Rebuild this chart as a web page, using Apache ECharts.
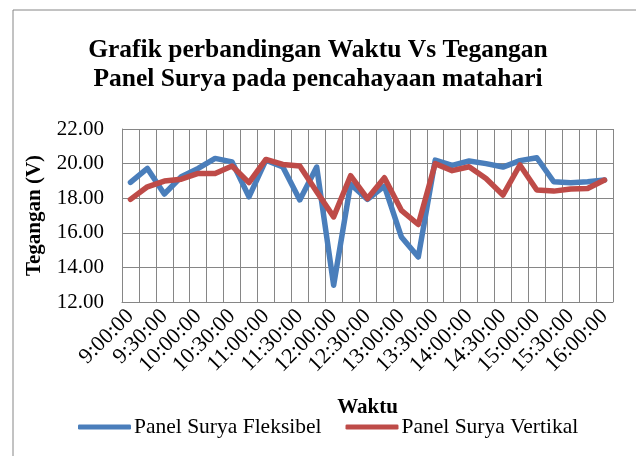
<!DOCTYPE html>
<html>
<head>
<meta charset="utf-8">
<title></title>
<script src="https://cdn.jsdelivr.net/npm/echarts@6/dist/echarts.min.js"></script>
<style>
  html, body { width: 100%; height: 100%; margin: 0; padding: 0; background: #fff; }
  #main { width: 636px; height: 456px; }
</style>
</head>
<body>
<div id="main"></div>
<script type="text/javascript">
    var myChart = echarts.init(document.getElementById('main'));

    // time categories, every 15 minutes
    var waktu = ['9:00:00', '9:15:00', '9:30:00', '9:45:00', '10:00:00', '10:15:00', '10:30:00', '10:45:00',
        '11:00:00', '11:15:00', '11:30:00', '11:45:00', '12:00:00', '12:15:00', '12:30:00', '12:45:00',
        '13:00:00', '13:15:00', '13:30:00', '13:45:00', '14:00:00', '14:15:00', '14:30:00', '14:45:00',
        '15:00:00', '15:15:00', '15:30:00', '15:45:00', '16:00:00'];

    var fleksibel = [18.91, 19.72, 18.24, 19.24, 19.72, 20.30, 20.10, 18.08, 20.20, 19.80, 17.90, 19.80,
        12.97, 18.81, 17.93, 18.70, 15.76, 14.60, 20.20, 19.90, 20.15, 20.00, 19.80, 20.17, 20.34,
        18.95, 18.90, 18.95, 19.05];

    var vertikal = [17.93, 18.66, 18.99, 19.10, 19.43, 19.43, 19.86, 18.90, 20.24, 19.95, 19.86, 18.37,
        16.92, 19.30, 17.98, 19.18, 17.30, 16.48, 20.00, 19.59, 19.82, 19.14, 18.18, 19.92, 18.47,
        18.41, 18.53, 18.56, 19.05];

    var font = '"Liberation Serif", "Times New Roman", serif';
    var gridColor = '#868686';

    myChart.setOption({
        animation: false,
        textStyle: { fontFamily: font },
        title: {
            text: 'Grafik perbandingan Waktu Vs Tegangan\nPanel Surya pada pencahayaan matahari',
            left: 'center',
            top: 31,
            textStyle: {
                fontFamily: font,
                fontSize: 25.5,
                fontWeight: 'bold',
                color: '#000',
                lineHeight: 29
            }
        },
        legend: {
            bottom: 13,
            left: 73,
            icon: 'roundRect',
            itemWidth: 53,
            itemHeight: 5,
            itemGap: 24,
            textStyle: { fontFamily: font, fontSize: 21.5, color: '#000', padding: [0, 0, 0, -2] },
            data: ['Panel Surya Fleksibel', 'Panel Surya Vertikal']
        },
        grid: {
            left: 122,
            right: 23,
            top: 129,
            bottom: 154
        },
        xAxis: {
            type: 'category',
            data: waktu,
            boundaryGap: true,
            name: 'Waktu',
            nameLocation: 'middle',
            nameGap: 95,
            nameTextStyle: { fontFamily: font, fontSize: 21, fontWeight: 'bold', color: '#000' },
            axisLine: { lineStyle: { color: gridColor, width: 1 } },
            axisTick: { show: false },
            axisLabel: {
                interval: 1,
                rotate: 45,
                fontFamily: font,
                fontSize: 22,
                color: '#000',
                margin: 11
            },
            splitLine: { show: true, interval: 0, lineStyle: { color: gridColor, width: 1 } }
        },
        yAxis: {
            type: 'value',
            min: 12,
            max: 22,
            interval: 2,
            name: 'Tegangan (V)',
            nameLocation: 'middle',
            nameGap: 77,
            nameTextStyle: { fontFamily: font, fontSize: 21, fontWeight: 'bold', color: '#000' },
            axisLine: { show: true, lineStyle: { color: gridColor, width: 1 } },
            axisTick: { show: false },
            axisLabel: {
                fontFamily: font,
                fontSize: 21,
                color: '#000',
                margin: 18,
                formatter: function (v) { return v.toFixed(2); }
            },
            splitLine: { show: true, lineStyle: { color: gridColor, width: 1 } }
        },
        series: [{
            name: 'Panel Surya Fleksibel',
            type: 'line',
            data: fleksibel,
            symbol: 'none',
            color: '#4a7ebb',
            lineStyle: { width: 5.5, color: '#4a7ebb', cap: 'round', join: 'round' }
        }, {
            name: 'Panel Surya Vertikal',
            type: 'line',
            data: vertikal,
            symbol: 'none',
            color: '#be4b48',
            lineStyle: { width: 5.5, color: '#be4b48', cap: 'round', join: 'round' }
        }],
        graphic: [{
            type: 'rect',
            shape: { x: 13, y: 10, width: 640, height: 470 },
            style: { fill: 'none', stroke: '#868686', lineWidth: 1 },
            silent: true
        }]
    });

    window.addEventListener('resize', function () {
        myChart.resize();
    });
</script>
</body>
</html>
